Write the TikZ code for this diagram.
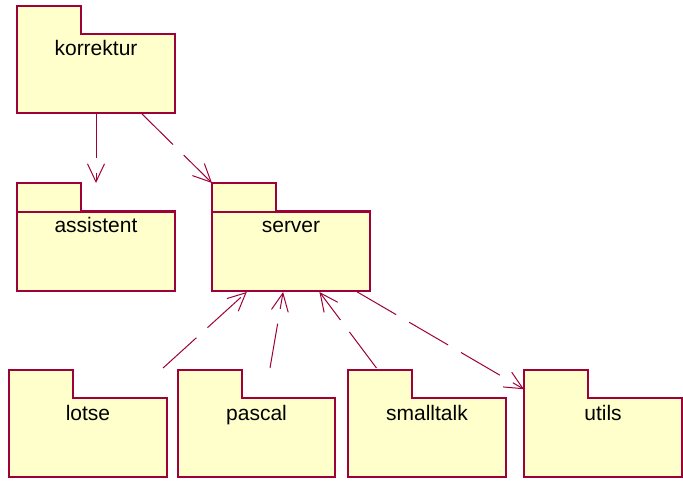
\documentclass[tikz,border=0pt]{standalone}
\usepackage{fontspec}
\setmainfont{Liberation Sans}
\usetikzlibrary{arrows.meta,calc,fit}

\definecolor{roseline}{RGB}{158,0,58}
\definecolor{rosefill}{RGB}{255,255,204}

\tikzset{
  pkgshape/.style={draw=roseline, fill=rosefill, line width=1.1pt, line join=miter},
  pkgsep/.style={draw=roseline, line width=1.1pt},
  pkgframe/.style={rectangle, inner sep=0pt, outer sep=0pt},
  pkglabel/.style={font=\fontsize{21}{25}\selectfont, anchor=base, inner sep=0pt},
  depend/.style={draw=roseline, line width=1pt, dash pattern=on 45pt off 15pt,
    -{Straight Barb[length=18pt,width=17pt,line width=1pt]}}
}

% UML package: name, left, top, right, bottom, label (tab 64 wide, 28 high)
\newcommand\umlpackage[6]{%
  \draw[pkgshape] (#2,#3) -- (#2+64,#3) -- (#2+64,#3+28) -- (#4,#3+28)
     -- (#4,#5) -- (#2,#5) -- cycle;
  \node[pkgframe, fit={(#2,#3) (#4,#5)}] (#1) {};
  \node[pkglabel] (#1-label) at ($(#2,#3+28)!0.5!(#4,#3+28)+(0,22)$) {#6};
}

\begin{document}
\begin{tikzpicture}[x=1pt, y=-1pt]
  \useasboundingbox (0,0) rectangle (683,484);

  \umlpackage{korrektur}{17}{6}{175}{113}{korrektur}
  \umlpackage{assistent}{17}{183}{175}{291}{assistent}
  \umlpackage{server}{212}{183}{370}{291}{server}
  \umlpackage{lotse}{9}{370}{167}{477}{lotse}
  \umlpackage{pascal}{178}{370}{335}{477}{pascal}
  \umlpackage{smalltalk}{348}{370}{506}{477}{smalltalk}
  \umlpackage{utils}{524}{370}{682}{477}{utils}

  % tab separators
  \draw[pkgsep] (assistent.north west) ++(0,29) -- ++(158,0);
  \draw[pkgsep] (server.north west) ++(0,29) -- ++(158,0);

  % dependencies
  \draw[depend] (korrektur.south) -- (assistent.north);
  \draw[depend] ($(korrektur.south west)!0.785!(korrektur.south east)$) -- (server.north west);
  \draw[depend] ($(lotse.north west)!0.975!(lotse.north east)+(0,-2)$)
      -- ($(server.south west)!0.22!(server.south east)+(0,1)$);
  \draw[depend] ($(pascal.north west)!0.586!(pascal.north east)+(0,-2)$)
      -- ($(server.south west)!0.45!(server.south east)+(0,1)$);
  \draw[depend] ($(smalltalk.north west)!0.18!(smalltalk.north east)+(0,-2)$)
      -- ($(server.south west)!0.68!(server.south east)+(0,1)$);
  \draw[depend] ($(server.south west)!0.92!(server.south east)+(0,1)$)
      -- ($(utils.north west)!0.18!(utils.south west)$);
\end{tikzpicture}
\end{document}
